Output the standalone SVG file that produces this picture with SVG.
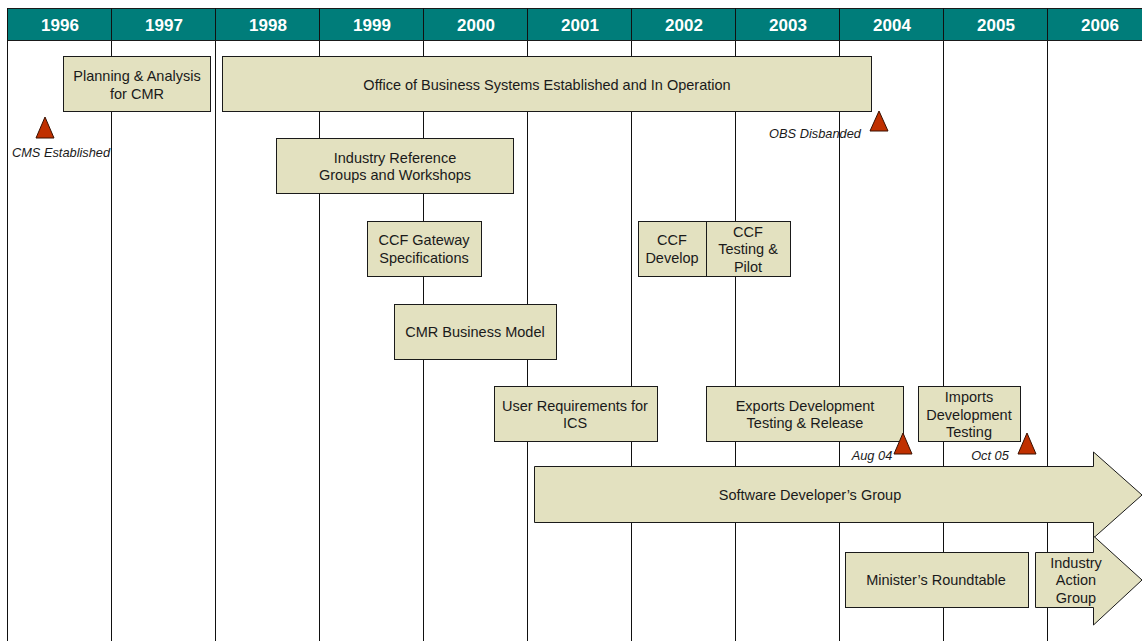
<svg xmlns="http://www.w3.org/2000/svg" width="1142" height="641" viewBox="0 0 1142 641">
<style>
.hdr{fill:#007d7a;stroke:#1a1a1a;stroke-width:1}
.yr{font-family:"Liberation Sans",Arial,sans-serif;font-weight:bold;font-size:17px;fill:#ffffff;text-anchor:middle}
.vl{stroke:#111111;stroke-width:1}
.box{fill:#e3e1c0;stroke:#1a1a1a;stroke-width:1}
.t{font-family:"Liberation Sans",Arial,sans-serif;font-size:14.5px;fill:#1a1a1a;text-anchor:middle}
.it{font-family:"Liberation Sans",Arial,sans-serif;font-size:12.8px;font-style:italic;fill:#1a1a1a;text-anchor:middle}
.tri{fill:#c03000;stroke:#3a1000;stroke-width:1}
</style>
<rect width="1142" height="641" fill="#ffffff"/>
<g id="timeline">
<rect class="hdr" x="7.5" y="8.5" width="1140" height="32"/>
<g class="vl">
<line x1="7.5" y1="8" x2="7.5" y2="641"/>
<line x1="111.5" y1="8" x2="111.5" y2="641"/>
<line x1="215.5" y1="8" x2="215.5" y2="641"/>
<line x1="319.5" y1="8" x2="319.5" y2="641"/>
<line x1="423.5" y1="8" x2="423.5" y2="641"/>
<line x1="527.5" y1="8" x2="527.5" y2="641"/>
<line x1="631.5" y1="8" x2="631.5" y2="641"/>
<line x1="735.5" y1="8" x2="735.5" y2="641"/>
<line x1="839.5" y1="8" x2="839.5" y2="641"/>
<line x1="943.5" y1="8" x2="943.5" y2="641"/>
<line x1="1047.5" y1="8" x2="1047.5" y2="641"/>
</g>
<line x1="8" y1="40.5" x2="1142" y2="40.5" stroke="#1a1a1a" stroke-width="1"/>
<text class="yr" x="60" y="31">1996</text>
<text class="yr" x="164" y="31">1997</text>
<text class="yr" x="268" y="31">1998</text>
<text class="yr" x="372" y="31">1999</text>
<text class="yr" x="476" y="31">2000</text>
<text class="yr" x="580" y="31">2001</text>
<text class="yr" x="684" y="31">2002</text>
<text class="yr" x="788" y="31">2003</text>
<text class="yr" x="892" y="31">2004</text>
<text class="yr" x="996" y="31">2005</text>
<text class="yr" x="1100" y="31">2006</text>
</g>
<g id="planning"><rect class="box" x="63.5" y="56.5" width="147" height="55"/><text class="t" x="137" y="81">Planning &amp; Analysis</text><text class="t" x="137" y="99">for CMR</text></g>
<g id="obs"><rect class="box" x="222.5" y="56.5" width="649" height="55"/><text class="t" x="547" y="90">Office of Business Systems Established and In Operation</text></g>
<g id="cms-established"><polygon class="tri" points="45,117 36,138 54,138"/><text class="it" x="61" y="157">CMS Established</text></g>
<g id="obs-disbanded"><polygon class="tri" points="879,111 870,131 888,131"/><text class="it" x="815" y="138">OBS Disbanded</text></g>
<g id="industry-ref"><rect class="box" x="276.5" y="138.5" width="237" height="55"/><text class="t" x="395" y="163">Industry Reference</text><text class="t" x="395" y="180">Groups and Workshops</text></g>
<g id="ccf-gateway"><rect class="box" x="367.5" y="221.5" width="114" height="55"/><text class="t" x="424" y="245">CCF Gateway</text><text class="t" x="424" y="263">Specifications</text></g>
<g id="ccf-develop"><rect class="box" x="638.5" y="221.5" width="68" height="55"/><text class="t" x="672" y="245">CCF</text><text class="t" x="672" y="263">Develop</text></g>
<g id="ccf-testing"><rect class="box" x="706.5" y="221.5" width="84" height="55"/><text class="t" x="748" y="237">CCF</text><text class="t" x="748" y="254">Testing &amp;</text><text class="t" x="748" y="272">Pilot</text></g>
<g id="cmr-model"><rect class="box" x="394.5" y="304.5" width="162" height="55"/><text class="t" x="475" y="337">CMR Business Model</text></g>
<g id="user-req"><rect class="box" x="494.5" y="386.5" width="163" height="55"/><text class="t" x="575" y="411">User Requirements for</text><text class="t" x="575" y="428">ICS</text></g>
<g id="exports"><rect class="box" x="706.5" y="386.5" width="197" height="55"/><text class="t" x="805" y="411">Exports Development</text><text class="t" x="805" y="428">Testing &amp; Release</text></g>
<g id="imports"><rect class="box" x="918.5" y="386.5" width="102" height="55"/><text class="t" x="969" y="402">Imports</text><text class="t" x="969" y="420">Development</text><text class="t" x="969" y="437">Testing</text></g>
<g id="aug04"><polygon class="tri" points="903,433 894,454 912,454"/><text class="it" x="872" y="460">Aug 04</text></g>
<g id="oct05"><polygon class="tri" points="1027,433 1018,454 1036,454"/><text class="it" x="990" y="460">Oct 05</text></g>
<g id="software-dev"><polygon class="box" points="534.5,466.5 1093.5,466.5 1093.5,452 1142,495 1093.5,538 1093.5,522.5 534.5,522.5"/><text class="t" x="810" y="500">Software Developer’s Group</text></g>
<g id="ministers"><rect class="box" x="845.5" y="552.5" width="183" height="55"/><text class="t" x="936" y="585">Minister’s Roundtable</text></g>
<g id="industry-action"><polygon class="box" points="1035.5,552.5 1093.5,552.5 1093.5,536 1142,580 1093.5,625 1093.5,607.5 1035.5,607.5"/><text class="t" x="1076" y="568">Industry</text><text class="t" x="1076" y="585">Action</text><text class="t" x="1076" y="603">Group</text></g>
</svg>
